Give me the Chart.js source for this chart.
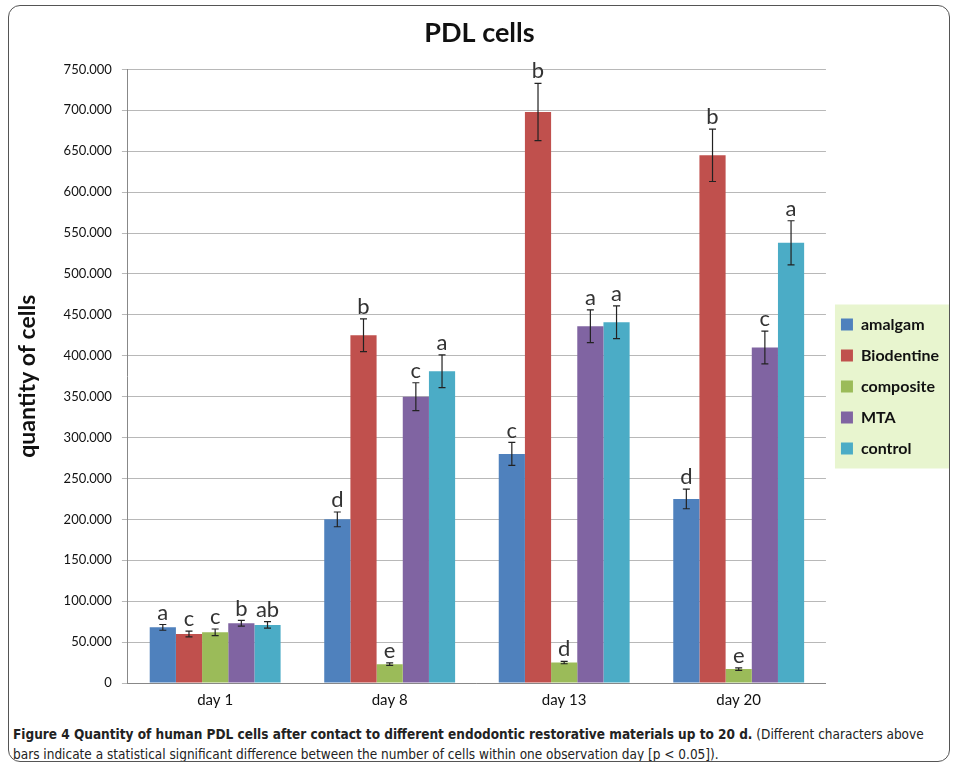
<!DOCTYPE html>
<html>
<head>
<meta charset="utf-8">
<script src="https://cdn.jsdelivr.net/npm/chart.js@4.4.1/dist/chart.umd.min.js"></script>
<style>
  body { margin: 0; background: #fff; }
  #frame {
    position: absolute; left: 8px; top: 5px; width: 940px; height: 755px;
    border: 1.5px solid #555; border-radius: 12px; overflow: hidden;
  }
  #chartBox { position: relative; width: 940px; height: 714px; }
  #caption {
    position: absolute; left: 4px; top: 718px; width: 935px;
    font-family: "Liberation Sans Narrow", "DejaVu Sans Condensed", sans-serif;
    font-size: 13.5px; line-height: 20px; color: #222;
  }
  #caption b { font-weight: bold; }
</style>
</head>
<body>
<div id="frame">
  <div id="chartBox"><canvas id="barChart"></canvas></div>
  <div id="caption"><b>Figure 4 Quantity of human PDL cells after contact to different endodontic restorative materials up to 20 d.</b> (Different characters above bars indicate a statistical significant difference between the number of cells within one observation day [p&nbsp;&lt;&nbsp;0.05]).</div>
</div>
<script>
const days = ["day 1", "day 8", "day 13", "day 20"];
const yTicks = [0, 50000, 100000, 150000, 200000, 250000, 300000, 350000, 400000, 450000, 500000, 550000, 600000, 650000, 700000, 750000];

const amalgam = [68000, 200000, 280000, 225000];
const biodentine = [60000, 425000, 698000, 645000];
const composite = [62000, 23000, 25000, 17000];
const mta = [73000, 350000, 436000, 410000];
const control = [71000, 381000, 441000, 538000];

const amalgamErr = [3500, 9000, 14000, 12000];
const biodentineErr = [3500, 20000, 35000, 32000];
const compositeErr = [4000, 1500, 1500, 1500];
const mtaErr = [3500, 17000, 20000, 20000];
const controlErr = [4000, 20000, 20000, 27000];

const amalgamLetters = ["a", "d", "c", "d"];
const biodentineLetters = ["c", "b", "b", "b"];
const compositeLetters = ["c", "e", "d", "e"];
const mtaLetters = ["b", "c", "a", "c"];
const controlLetters = ["ab", "a", "a", "a"];

function formatDots(v) {
  return String(v).replace(/\B(?=(\d{3})+(?!\d))/g, ".");
}

const errorBarPlugin = {
  id: "errorBars",
  afterDatasetsDraw(chart) {
    const ctx = chart.ctx;
    const yScale = chart.scales.y;
    chart.data.datasets.forEach((ds, i) => {
      const meta = chart.getDatasetMeta(i);
      meta.data.forEach((bar, j) => {
        const v = ds.data[j];
        const e = ds.errors[j];
        const yTop = yScale.getPixelForValue(v + e);
        const yBot = yScale.getPixelForValue(v - e);
        ctx.save();
        ctx.strokeStyle = "#222";
        ctx.lineWidth = 1.2;
        ctx.beginPath();
        ctx.moveTo(bar.x, yTop);
        ctx.lineTo(bar.x, yBot);
        ctx.moveTo(bar.x - 3.5, yTop);
        ctx.lineTo(bar.x + 3.5, yTop);
        ctx.moveTo(bar.x - 3.5, yBot);
        ctx.lineTo(bar.x + 3.5, yBot);
        ctx.stroke();
        ctx.fillStyle = "#333";
        ctx.font = "22px Lato";
        ctx.textAlign = "center";
        ctx.textBaseline = "bottom";
        ctx.fillText(ds.letters[j], bar.x, yTop - 1);
        ctx.restore();
      });
    });
  },
};

// push the legend down a bit and paint a pale green box behind its items
const legendBgPlugin = {
  id: "legendBg",
  afterLayout(chart) {
    const l = chart.legend;
    if (!l) return;
    l.top += 29;
    l.bottom += 29;
  },
  beforeDraw(chart) {
    const l = chart.legend;
    if (!l || !l.legendHitBoxes.length) return;
    const boxes = l.legendHitBoxes;
    const top = boxes[0].top - 12;
    const bottom = boxes[boxes.length - 1].top + boxes[boxes.length - 1].height + 12;
    const ctx = chart.ctx;
    ctx.save();
    ctx.fillStyle = "#e8f5cf";
    ctx.fillRect(boxes[0].left - 6, top, chart.width - boxes[0].left + 6, bottom - top);
    ctx.restore();
  },
};

const data = {
  labels: days,
  datasets: [
    { label: "amalgam", data: amalgam, errors: amalgamErr, letters: amalgamLetters, backgroundColor: "#4f81bd" },
    { label: "Biodentine", data: biodentine, errors: biodentineErr, letters: biodentineLetters, backgroundColor: "#c0504d" },
    { label: "composite", data: composite, errors: compositeErr, letters: compositeLetters, backgroundColor: "#9bbb59" },
    { label: "MTA", data: mta, errors: mtaErr, letters: mtaLetters, backgroundColor: "#8064a2" },
    { label: "control", data: control, errors: controlErr, letters: controlLetters, backgroundColor: "#4bacc6" },
  ],
};

const config = {
  type: "bar",
  data: data,
  options: {
    responsive: true,
    maintainAspectRatio: false,
    animation: false,
    layout: { padding: { left: 1, right: 0, top: 0, bottom: 11 } },
    datasets: { bar: { categoryPercentage: 0.75, barPercentage: 1.0 } },
    plugins: {
      title: {
        display: true,
        text: "PDL cells",
        color: "#111",
        font: { family: "Lato", size: 27, weight: "bold" },
        padding: { top: 11, bottom: 20 },
      },
      legend: {
        position: "right",
        align: "center",
        labels: {
          color: "#111",
          font: { family: "Lato", size: 16, weight: "bold" },
          boxWidth: 12,
          boxHeight: 12,
          padding: 15,
        },
      },
      tooltip: { enabled: false },
    },
    scales: {
      x: {
        grid: { display: false, offset: true, drawTicks: true },
        border: { color: "#888" },
        ticks: { color: "#111", font: { family: "Lato", size: 15 }, padding: 0 },
      },
      y: {
        min: 0,
        max: 750000,
        afterBuildTicks(axis) {
          axis.ticks = yTicks.map((v) => ({ value: v }));
        },
        grid: { color: "#b8b8b8", tickLength: 6, drawTicks: true },
        border: { color: "#888" },
        ticks: {
          color: "#111",
          font: { family: "Lato", size: 13 },
          padding: 10,
          callback: (v) => formatDots(v),
        },
        title: {
          display: true,
          text: "quantity of cells",
          color: "#111",
          font: { family: "Lato", size: 23, weight: "bold" },
          padding: { bottom: 12 },
        },
      },
    },
  },
  plugins: [legendBgPlugin, errorBarPlugin],
};

new Chart(document.getElementById("barChart"), config);
</script>
</body>
</html>
